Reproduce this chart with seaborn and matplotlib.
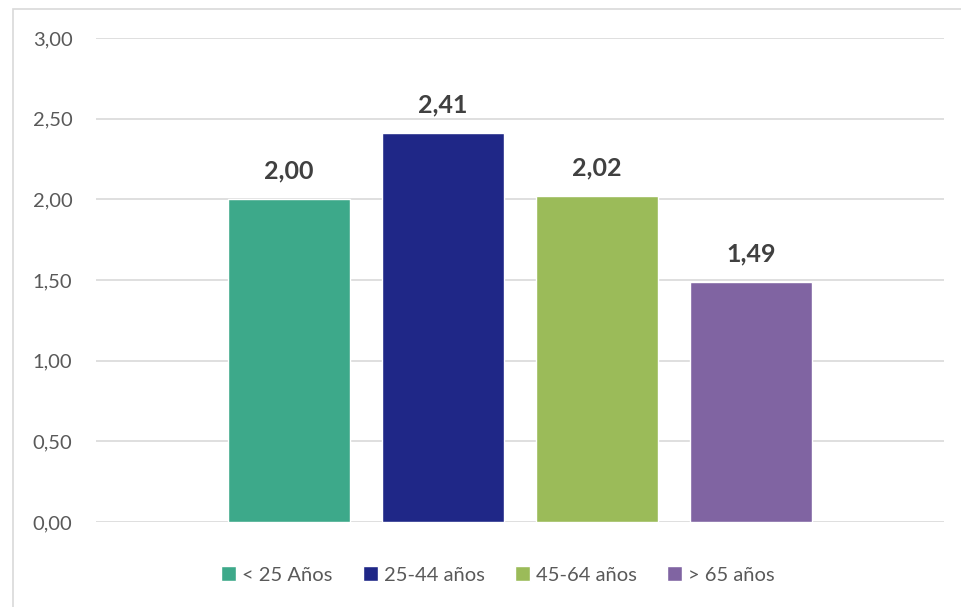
import matplotlib
matplotlib.use("Agg")
import matplotlib.pyplot as plt
import matplotlib.patches as mpatches
import seaborn as sns
import pandas as pd
from matplotlib.ticker import FuncFormatter

# Datos
grupos = ["< 25 Años", "25-44 años", "45-64 años", "> 65 años"]
valores = [2.00, 2.41, 2.02, 1.49]
colores = ["#3DA98A", "#1F2787", "#9BBB59", "#8064A2"]
yticks = [0.0, 0.5, 1.0, 1.5, 2.0, 2.5, 3.0]


def coma(v: float) -> str:
    return f"{v:.2f}".replace(".", ",")


sns.set_theme(style="white")
plt.rcParams["font.family"] = ["Lato", "DejaVu Sans"]

df = pd.DataFrame({"grupo": grupos, "valor": valores})

fig = plt.figure(figsize=(9.61, 6.07), dpi=100)
ax = fig.add_axes([96 / 961, 1 - 522 / 607, 848 / 961, 484 / 607])

sns.barplot(data=df, x="grupo", y="valor", hue="grupo", palette=colores,
            width=0.79, legend=True, ax=ax, saturation=1)

ax.set_ylim(0, 3)
ax.set_xlim(-1.253, 4.253)
ax.set_yticks(yticks)
ax.yaxis.set_major_formatter(FuncFormatter(lambda v, _: coma(v)))
ax.tick_params(axis="y", length=0, pad=17, labelsize=14.5, labelcolor="#595959")
ax.set_xticks([])
ax.set_xlabel("")
ax.set_ylabel("")
ax.grid(axis="y", color="#D9D9D9", linewidth=1.2)
ax.set_axisbelow(True)
for s in ax.spines.values():
    s.set_visible(False)

for cont in ax.containers:
    ax.bar_label(cont, labels=[coma(b.get_height()) for b in cont],
                 padding=12, fontsize=18, fontweight="bold", color="#404040")

handles, labels = ax.get_legend_handles_labels()
ax.get_legend().remove()
fig.legend(handles, labels, loc="center", bbox_to_anchor=(498 / 961, 32 / 607),
           ncol=4, frameon=False, fontsize=14.5, labelcolor="#595959",
           handlelength=0.75, handleheight=0.75, handletextpad=0.3,
           columnspacing=1.5)

# marco del gráfico
fig.patches.append(mpatches.Rectangle((13 / 961, -0.1), 1.2, 1.1 - 9 / 607,
                                      transform=fig.transFigure, fill=False,
                                      edgecolor="#D9D9D9", linewidth=1.2))

fig.savefig("out.png", dpi=100)
